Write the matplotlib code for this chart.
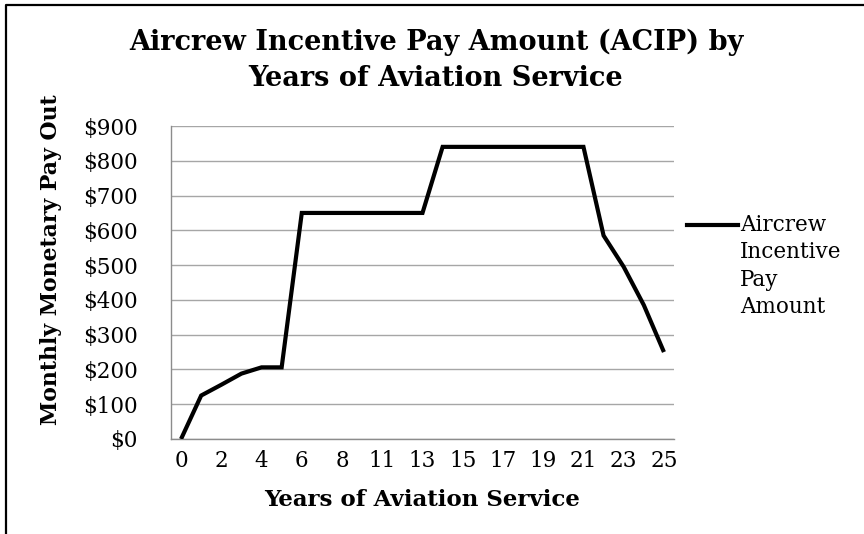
import matplotlib.pyplot as plt
from matplotlib.lines import Line2D

# years of aviation service (category axis) and monthly ACIP amount
years = ['0', '1', '2', '3', '4', '5', '6', '7', '8', '10', '11', '12', '13',
         '14', '15', '16', '17', '18', '19', '20', '21', '22', '23', '24', '25']
pay = [0, 125, 156, 188, 206, 206, 650, 650, 650, 650, 650, 650, 650,
       840, 840, 840, 840, 840, 840, 840, 840, 585, 495, 385, 250]
yticks = [0, 100, 200, 300, 400, 500, 600, 700, 800, 900]
series_name = 'Aircrew\nIncentive\nPay\nAmount'

W, H = 864, 534
fig = plt.figure(figsize=(W / 100, H / 100), dpi=100)
ax = fig.add_axes([171 / W, 1 - 439 / H, (674 - 171) / W, (439 - 126) / H])

serif = 'DejaVu Serif'
ax.plot(range(len(years)), pay, color='black', lw=3, solid_joinstyle='miter',
        solid_capstyle='butt', zorder=3)

ax.set_xlim(-0.5, len(years) - 0.5)
ax.set_ylim(0, 900)
ax.set_xticks(range(0, len(years), 2))
ax.set_xticklabels(years[::2], family=serif, fontsize=15.5)
ax.set_yticks(yticks)
ax.set_yticklabels(['$%d' % v for v in yticks], family=serif, fontsize=15.5)
ax.tick_params(axis='y', length=0, pad=24)
ax.tick_params(axis='x', length=0, pad=8)

ax.grid(axis='y', color='#a6a6a6', lw=1)
ax.set_axisbelow(True)
for s in ['top', 'right']:
    ax.spines[s].set_visible(False)
for s in ['left', 'bottom']:
    ax.spines[s].set_color('#8c8c8c')
    ax.spines[s].set_linewidth(1)

fig.text(436 / W, 1 - 29 / H, 'Aircrew Incentive Pay Amount (ACIP) by\nYears of Aviation Service',
         ha='center', va='top', family=serif, weight='bold', fontsize=19.5,
         linespacing=1.42)
fig.text(51 / W, 1 - 260 / H, 'Monthly Monetary Pay Out', rotation=90,
         ha='center', va='center', family=serif, weight='bold', fontsize=15.8)
fig.text(422 / W, 1 - 500 / H, 'Years of Aviation Service',
         ha='center', va='center', family=serif, weight='bold', fontsize=16.5)

# legend
fig.add_artist(Line2D([687 / W, 738 / W], [1 - 225 / H, 1 - 225 / H],
                      color='black', lw=3, transform=fig.transFigure))
fig.text(740 / W, 1 - 214 / H, series_name, ha='left', va='top',
         family=serif, fontsize=15.5, linespacing=1.32)

# outer frame (left and top edges visible in crop)
fig.add_artist(Line2D([6 / W, 6 / W, 1.0], [0.0, 1 - 5 / H, 1 - 5 / H],
                      color='black', lw=1.6, transform=fig.transFigure))

fig.savefig('out.png', dpi=100)
